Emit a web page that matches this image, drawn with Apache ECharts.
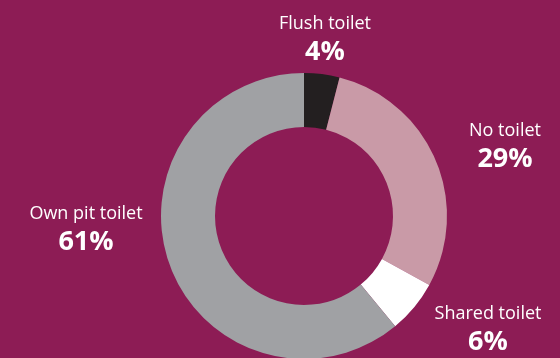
<!DOCTYPE html>
<html>
<head>
<meta charset="utf-8">
<script src="https://cdn.jsdelivr.net/npm/echarts@6/dist/echarts.min.js"></script>
<style>
  html, body { margin: 0; padding: 0; background: #8d1c55; }
  #chart { width: 560px; height: 358px; }
</style>
</head>
<body>
<div id="chart"></div>
<script>
// Toilet access shares, clockwise from the top
const categories = ['Flush toilet', 'No toilet', 'Shared toilet', 'Own pit toilet'];
const shares = [4, 29, 6, 61];
const sliceColors = ['#231f20', '#c99aa7', '#ffffff', '#a0a1a4'];

// Where each category's caption sits (centre of the text block)
const labelSpots = [
  [325, 39],
  [505, 146],
  [488, 329],
  [86, 229]
];

const chart = echarts.init(document.getElementById('chart'));
chart.setOption({
  backgroundColor: '#8d1c55',
  animation: false,
  series: [{
    type: 'pie',
    center: [304, 216],
    radius: [89, 143],
    startAngle: 90,
    clockwise: true,
    silent: true,
    data: categories.map((name, i) => ({
      name,
      value: shares[i],
      itemStyle: { color: sliceColors[i] }
    })),
    label: {
      show: true,
      overflow: 'none',
      width: 200,
      align: 'center',
      formatter: p => '{n|' + p.name + '}\n{v|' + p.value + '%}',
      rich: {
        n: { fontFamily: 'Open Sans', fontSize: 18, color: '#ffffff', lineHeight: 27, align: 'center' },
        v: { fontFamily: 'Open Sans', fontSize: 27, fontWeight: 'bold', color: '#ffffff', lineHeight: 31, align: 'center' }
      }
    },
    labelLine: { show: false },
    labelLayout: params => ({
      x: labelSpots[params.dataIndex][0],
      y: labelSpots[params.dataIndex][1],
      align: 'center',
      verticalAlign: 'middle'
    })
  }]
});
</script>
</body>
</html>
